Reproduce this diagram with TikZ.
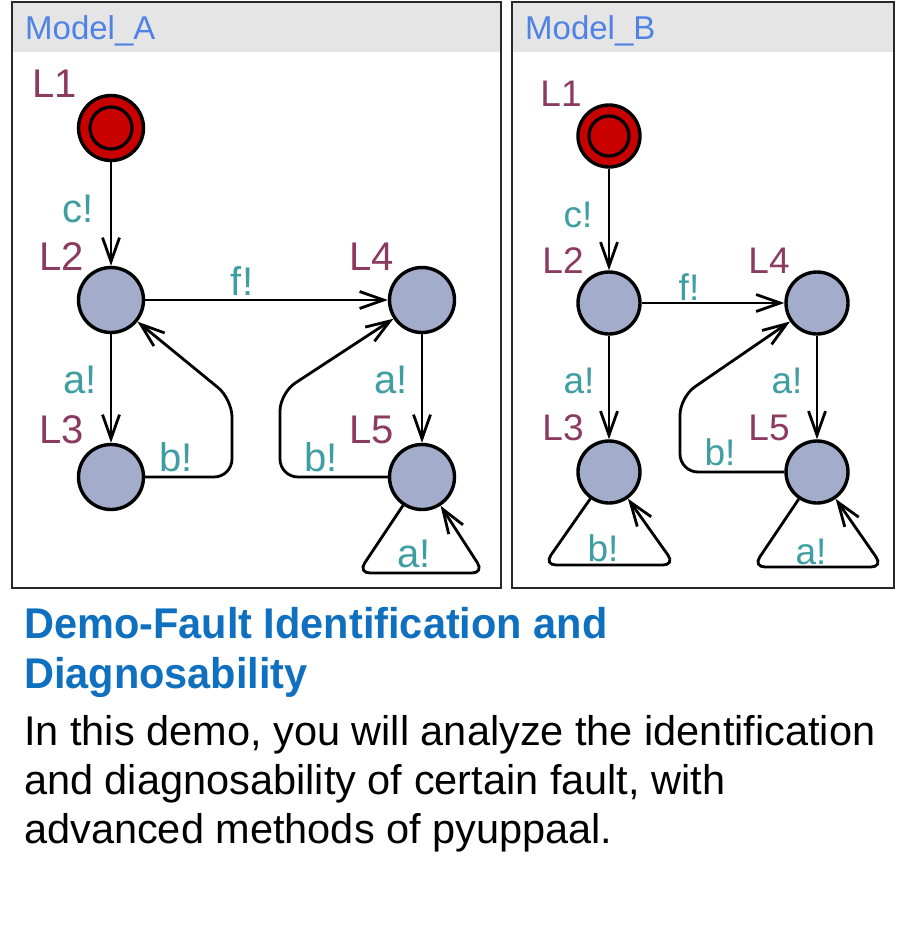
\documentclass[tikz,border=0pt]{standalone}
\usepackage{fontspec}
\usepackage{graphicx}
\setmainfont{Liberation Sans}
\usetikzlibrary{arrows.meta}
\definecolor{locname}{RGB}{139,58,98}
\definecolor{edgecol}{RGB}{62,158,162}
\definecolor{locfill}{RGB}{163,172,203}
\definecolor{initred}{RGB}{200,0,0}
\definecolor{hdrgray}{RGB}{229,229,229}
\definecolor{hdrblue}{RGB}{80,130,230}
\definecolor{titleblue}{RGB}{16,112,192}
\definecolor{framecol}{RGB}{40,40,40}
\begin{document}
\begin{tikzpicture}[x=1pt,y=-1pt,
  locA/.style={circle, draw=black, line width=3.4pt, fill=locfill, minimum size=65pt, inner sep=0pt},
  locB/.style={circle, draw=black, line width=3.4pt, fill=locfill, minimum size=62pt, inner sep=0pt},
  initA/.style={locA, fill=initred},
  initB/.style={locB, fill=initred},
  edge/.style={draw, line width=2.8pt, -{Straight Barb[length=24pt,width=17pt]}},
  lnA/.style={text=locname, inner sep=0pt, font=\fontsize{40}{40}\selectfont},
  elA/.style={text=edgecol, inner sep=0pt, font=\fontsize{40}{40}\selectfont},
  lnB/.style={text=locname, inner sep=0pt, font=\fontsize{37}{37}\selectfont},
  elB/.style={text=edgecol, inner sep=0pt, font=\fontsize{37}{37}\selectfont},
  hdr/.style={anchor=base west, inner sep=0pt, text=hdrblue, font=\fontsize{33}{33}\selectfont},
  frame/.style={draw=framecol, line width=2.2pt},
  title/.style={anchor=base west, inner sep=0pt, text=titleblue, font=\bfseries\fontsize{43}{43}\selectfont},
  body/.style={anchor=base west, inner sep=0pt, text=black, font=\fontsize{41.5}{41.5}\selectfont}
]
\useasboundingbox (0,0) rectangle (916,942);
\fill[white] (0,0) rectangle (916,942);

% ---------- Model A ----------
\fill[hdrgray] (12,2) rectangle (501,52);
\draw[frame] (12,2) rectangle (501,588);
\node[hdr] (hA) at (25,40) {Model\_A};

\node[initA] (A1) at (111,128) {};
\draw[line width=3.2pt] (A1.center) circle[radius=21pt];
\node[locA] (A2) at (111,300) {};
\node[locA] (A3) at (111,477) {};
\node[locA] (A4) at (422,300) {};
\node[locA] (A5) at (422,477) {};

\node[lnA] (nA1) at (55,84) {L1};
\node[lnA] (nA2) at (62,257) {L2};
\node[lnA] (nA3) at (62,430) {L3};
\node[lnA] (nA4) at (372,257) {L4};
\node[lnA] (nA5) at (372,430) {L5};

\draw[edge] (A1) -- (A2);
\draw[edge] (A2) -- (A4);
\draw[edge] (A2) -- (A3);
\draw[edge] (A4) -- (A5);
\draw[edge, rounded corners=18pt] (A3) -- (232,477) -- (232,399) -- (A2);
\draw[edge, rounded corners=18pt] (A5) -- (280,477) -- (280,393) -- (A4);
\draw[edge, rounded corners=12pt] (A5) -- (358,573) -- (484,573) -- (A5);

\node[elA] (eA1) at (78,209) {c!};
\node[elA] (eA2) at (242,281) {f!};
\node[elA] (eA3) at (80,380) {a!};
\node[elA] (eA4) at (176,457) {b!};
\node[elA] (eA5) at (391,380) {a!};
\node[elA] (eA6) at (321,457) {b!};
\node[elA] (eA7) at (414,554) {a!};

% ---------- Model B ----------
\fill[hdrgray] (512,2) rectangle (894,52);
\draw[frame] (512,2) rectangle (894,588);
\node[hdr] (hB) at (525,40) {Model\_B};

\node[initB] (B1) at (609,136) {};
\draw[line width=3.2pt] (B1.center) circle[radius=20pt];
\node[locB] (B2) at (609,303) {};
\node[locB] (B3) at (609,472) {};
\node[locB] (B4) at (817,303) {};
\node[locB] (B5) at (817,472) {};

\node[lnB] (nB1) at (561,94) {L1};
\node[lnB] (nB2) at (563,261) {L2};
\node[lnB] (nB3) at (563,428) {L3};
\node[lnB] (nB4) at (769,261) {L4};
\node[lnB] (nB5) at (769,428) {L5};

\draw[edge] (B1) -- (B2);
\draw[edge] (B2) -- (B4);
\draw[edge] (B2) -- (B3);
\draw[edge] (B4) -- (B5);
\draw[edge, rounded corners=18pt] (B5) -- (680,472) -- (680,397) -- (B4);
\draw[edge, rounded corners=12pt] (B3) -- (544,565) -- (675,565) -- (B3);
\draw[edge, rounded corners=12pt] (B5) -- (753,567) -- (883,567) -- (B5);

\node[elB] (eB1) at (578,215) {c!};
\node[elB] (eB2) at (689,287) {f!};
\node[elB] (eB3) at (579,381) {a!};
\node[elB] (eB4) at (787,381) {a!};
\node[elB] (eB5) at (720,452) {b!};
\node[elB] (eB6) at (603,548) {b!};
\node[elB] (eB7) at (811,552) {a!};

% ---------- Text ----------
\node[title] (t1) at (24,638) {\scalebox{0.965}[1]{Demo-Fault Identification and}};
\node[title] (t2) at (24,688) {\scalebox{0.965}[1]{Diagnosability}};
\node[body] (b1) at (24,745) {In this demo, you will analyze the identification};
\node[body] (b2) at (24,794) {and diagnosability of certain fault, with};
\node[body] (b3) at (24,843) {advanced methods of pyuppaal.};
\end{tikzpicture}
\end{document}
